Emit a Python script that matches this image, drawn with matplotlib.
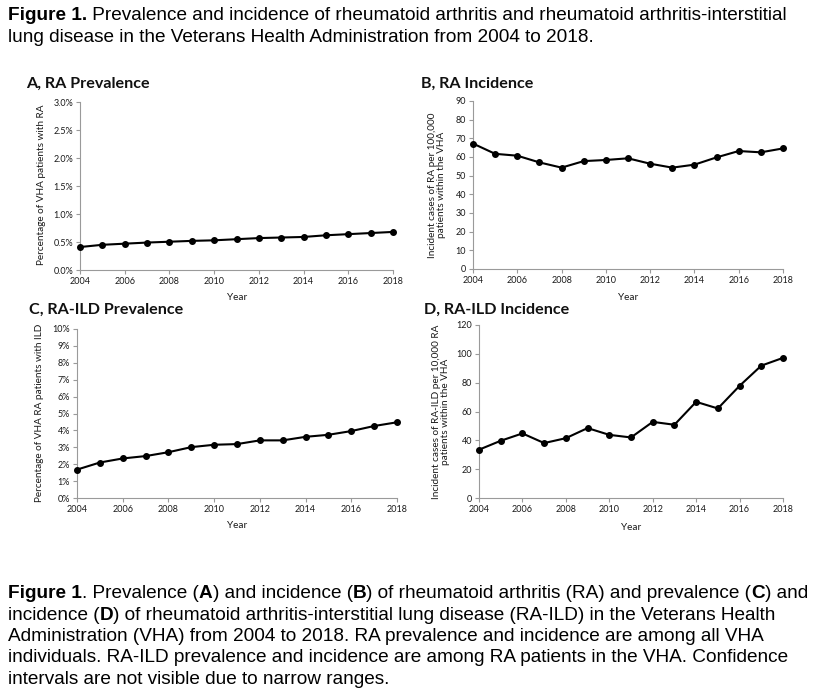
import matplotlib
matplotlib.use("Agg")
import matplotlib.pyplot as plt
from matplotlib.ticker import FuncFormatter

years = list(range(2004, 2019))
ra_prev = [0.41, 0.45, 0.47, 0.49, 0.505, 0.52, 0.53, 0.55, 0.57, 0.58, 0.59, 0.62, 0.64, 0.66, 0.68]
ra_inc = [67.2, 61.7, 60.7, 57.1, 54.3, 57.8, 58.4, 59.3, 56.4, 54.3, 55.9, 59.8, 63.2, 62.5, 64.6]
ild_prev = [1.68, 2.10, 2.34, 2.48, 2.71, 3.01, 3.15, 3.19, 3.41, 3.41, 3.62, 3.74, 3.96, 4.26, 4.48]
ild_inc = [33.5, 39.7, 44.8, 38.1, 41.5, 48.5, 43.8, 42.0, 52.8, 50.8, 66.7, 62.1, 77.8, 91.8, 97.2]

W, H = 819, 691
fig = plt.figure(figsize=(W / 100, H / 100), dpi=100)
CF = ["Lato", "DejaVu Sans"]
AF = ["Liberation Sans", "DejaVu Sans"]


def add_ax(l, r, t, b):
    return fig.add_axes([l / W, 1 - b / H, (r - l) / W, (b - t) / H])


def style(ax, ymax, ystep, fmt):
    ax.set_xlim(2004, 2018)
    ax.set_ylim(0, ymax)
    ax.set_xticks(range(2004, 2019, 2))
    ax.set_yticks([i * ystep for i in range(int(round(ymax / ystep)) + 1)])
    ax.yaxis.set_major_formatter(FuncFormatter(fmt))
    for s in ["top", "right"]:
        ax.spines[s].set_visible(False)
    for s in ["left", "bottom"]:
        ax.spines[s].set_color("#9a9a9a")
        ax.spines[s].set_linewidth(0.8)
    ax.tick_params(axis="both", direction="out", length=3, width=0.8, color="#9a9a9a",
                   labelsize=6.5, labelcolor="#1a1a1a", pad=2)
    for lab in ax.get_xticklabels() + ax.get_yticklabels():
        lab.set_family(CF)


def plot(ax, y):
    ax.plot(years, y, color="black", lw=1.5, marker="o", ms=4, clip_on=False, zorder=3)


# Panel A
axA = add_ax(80, 393, 102, 270)
plot(axA, ra_prev)
style(axA, 3.0, 0.5, lambda v, p: f"{v:.1f}%")
# Panel B
axB = add_ax(473, 783, 101, 269)
plot(axB, ra_inc)
style(axB, 90, 10, lambda v, p: f"{v:.0f}")
# Panel C
axC = add_ax(77, 397, 329, 498)
plot(axC, ild_prev)
style(axC, 10, 1, lambda v, p: f"{v:.0f}%")
# Panel D
axD = add_ax(479, 783, 325, 498)
plot(axD, ild_inc)
style(axD, 120, 20, lambda v, p: f"{v:.0f}")


def ft(x, y, s, **kw):
    return fig.text(x / W, 1 - y / H, s, **kw)


# titles
tkw = dict(family=CF, fontsize=11.6, fontweight="bold", va="center", ha="left", color="#111111")
ft(26, 84, "A, RA Prevalence", **tkw)
ft(421, 84, "B, RA Incidence", **tkw)
ft(29, 310, "C, RA-ILD Prevalence", **tkw)
ft(424, 310, "D, RA-ILD Incidence", **tkw)

# x labels
xkw = dict(family=CF, fontsize=7.2, va="center", ha="center", color="#1a1a1a")
ft(237, 298, "Year", **xkw)
ft(628, 298, "Year", **xkw)
ft(237, 526, "Year", **xkw)
ft(631, 527, "Year", **xkw)

# y labels
ykw = dict(family=CF, fontsize=7.2, va="center", ha="center", rotation=90, color="#1a1a1a",
           linespacing=1.1)
ft(42, 185, "Percentage of VHA patients with RA", **ykw)
ft(437, 185, "Incident cases of RA per 100,000\npatients within the VHA", **ykw)
ft(40, 413, "Percentage of VHA RA patients with ILD", **ykw)
ft(441, 412, "Incident cases of RA-ILD per 10,000 RA\npatients within the VHA", **ykw)

# rich text lines (Arial-like)
renderer = fig.canvas.get_renderer()


def rich_line(x, y, parts, size=13.65):
    cx = x
    for txt, bold in parts:
        t = ft(cx, y, txt, family=AF, fontsize=size, fontweight="bold" if bold else "normal",
               va="baseline", ha="left", color="black")
        bb = t.get_window_extent(renderer=renderer)
        cx += bb.width


hdr = [
    [("Figure 1.", True), (" Prevalence and incidence of rheumatoid arthritis and rheumatoid arthritis-interstitial", False)],
    [("lung disease in the Veterans Health Administration from 2004 to 2018.", False)],
]
cap = [
    [("Figure 1", True), (". Prevalence (", False), ("A", True), (") and incidence (", False), ("B", True),
     (") of rheumatoid arthritis (RA) and prevalence (", False), ("C", True), (") and", False)],
    [("incidence (", False), ("D", True), (") of rheumatoid arthritis-interstitial lung disease (RA-ILD) in the Veterans Health", False)],
    [("Administration (VHA) from 2004 to 2018. RA prevalence and incidence are among all VHA", False)],
    [("individuals. RA-ILD prevalence and incidence are among RA patients in the VHA. Confidence", False)],
    [("intervals are not visible due to narrow ranges.", False)],
]
for i, line in enumerate(hdr):
    rich_line(8, 20 + i * 21.5, line)
for i, line in enumerate(cap):
    rich_line(8, 598 + i * 21.5, line)

fig.savefig("out.png", dpi=100)
